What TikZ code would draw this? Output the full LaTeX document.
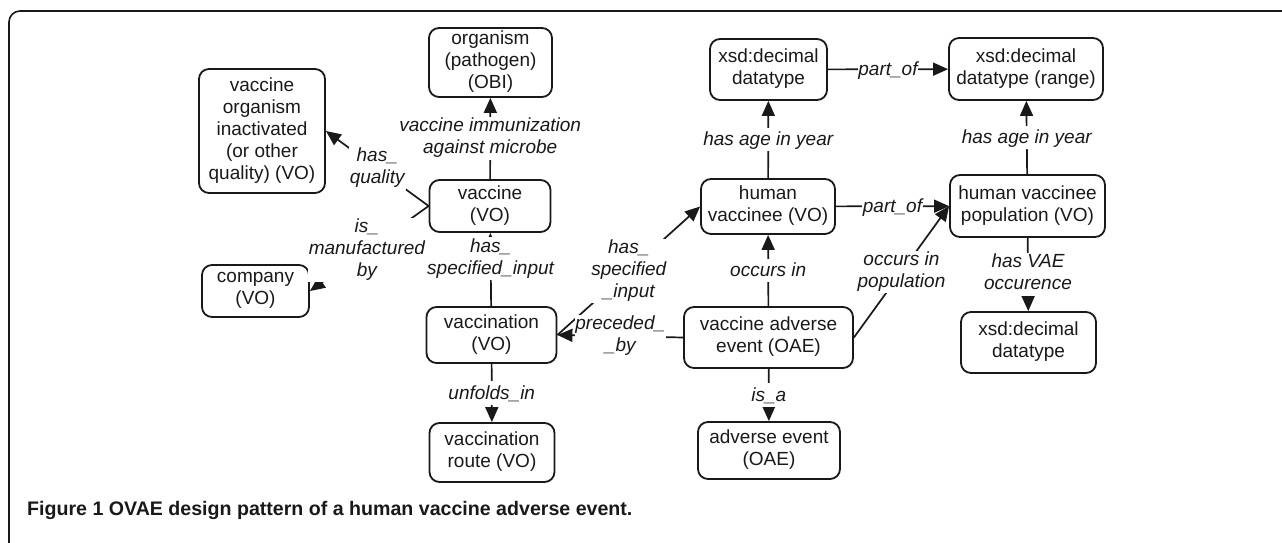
\documentclass[tikz,border=0pt]{standalone}
\usepackage{fontspec}
\usetikzlibrary{arrows.meta}
\newfontfamily\diagfam{Liberation Sans}
\newcommand\nodefont{\diagfam\fontsize{19}{22}\selectfont}
\newcommand\lblfont{\diagfam\itshape\fontsize{19}{22}\selectfont}
\newcommand\capfont{\diagfam\bfseries\fontsize{19.6}{23}\selectfont}
\newcommand\nstrut{\vrule height 17.2pt depth 4.8pt width 0pt}
\definecolor{ink}{RGB}{25,25,25}
\tikzset{
  box/.style={draw=ink, line width=1.8pt, rounded corners=10pt, align=center,
    inner sep=0pt, font=\nodefont, text=ink,
    execute at begin node=\nstrut, execute at end node=\nstrut},
  lbl/.style={fill=white, inner sep=0.8pt, font=\lblfont, align=center, text=ink,
    execute at begin node=\nstrut, execute at end node=\nstrut},
  rel/.style={draw=ink, line width=1.7pt, -{Triangle[length=15pt,width=13pt]}},
  frameline/.style={draw=ink, line width=1.6pt, rounded corners=11pt},
}
\begin{document}
\begin{tikzpicture}[x=1pt,y=-1pt]
\useasboundingbox (0,0) rectangle (1282,543);
\draw[frameline] (9,620) -- (9,11) -- (1320,11);

% nodes
\node[box, minimum width=123pt, minimum height=69pt] (org) at (490.5,62.5) {organism\\(pathogen)\\(OBI)};
\node[box, minimum width=126pt, minimum height=124pt] (voi) at (262,131) {vaccine\\organism\\inactivated\\(or other\\quality) (VO)};
\node[box, minimum width=121pt, minimum height=52pt] (vac) at (490,206) {vaccine\\(VO)};
\node[box, minimum width=107pt, minimum height=52pt] (comp) at (255.5,291) {company\\(VO)};
\node[box, minimum width=130pt, minimum height=56pt] (vacc) at (491.5,335) {vaccination\\(VO)};
\node[box, minimum width=125pt, minimum height=59pt] (route) at (492,452.5) {vaccination\\route (VO)};
\node[box, minimum width=117pt, minimum height=61pt] (xsda) at (768.5,69.5) {xsd:decimal\\datatype};
\node[box, minimum width=134pt, minimum height=55pt] (hv) at (768,206.5) {human\\vaccinee (VO)};
\node[box, minimum width=169pt, minimum height=61pt] (vae) at (768.5,337.5) {vaccine adverse\\event (OAE)};
\node[box, minimum width=142pt, minimum height=57pt] (ae) at (769,450.5) {adverse event\\(OAE)};
\node[box, minimum width=154pt, minimum height=62pt] (xsdr) at (1026,69) {xsd:decimal\\datatype (range)};
\node[box, minimum width=155pt, minimum height=62pt] (pop) at (1027.5,206) {human vaccinee\\population (VO)};
\node[box, minimum width=135pt, minimum height=61pt] (xsdb) at (1028.5,342.5) {xsd:decimal\\datatype};

% connectors
\draw[rel] (vac) -- node[lbl] {vaccine immunization\\against microbe} (org);
\draw[rel] (vac.west) -- node[lbl] {has\_\\quality} (voi.east);
\draw[rel] (vacc) -- node[lbl, pos=0.65] {has\_\\specified\_input} (vac);
\draw[rel] (vac.west) -- node[lbl, pos=0.52] {is\_\\manufactured\\by} (comp.east);
\draw[rel] (vacc) -- node[lbl] {unfolds\_in} (route);
\draw[rel] (vacc.east) -- node[lbl] {has\_\\specified\\\_input} (hv.west);
\draw[rel] (vae.west) -- node[lbl] {preceded\_\\\_by} (vacc.east);
\draw[rel] (vae) -- node[lbl] {occurs in} (hv);
\draw[rel] (vae) -- node[lbl] {is\_a} (ae);
\draw[rel] (hv) -- node[lbl] {has age in year} (xsda);
\draw[rel] (xsda) -- node[lbl] {part\_of} (xsdr);
\draw[rel] (hv) -- node[lbl] {part\_of} (pop);
\draw[rel] (vae.east) -- node[lbl] {occurs in\\population} (pop.west);
\draw[rel] (pop) -- node[lbl] {has age in year} (xsdr);
\draw[rel] (pop) -- node[lbl] {has VAE\\occurence} (xsdb);

% caption
\node[anchor=base west, inner sep=0pt, font=\capfont, text=ink] (cap) at (27,515) {Figure 1 OVAE design pattern of a human vaccine adverse event.};
\end{tikzpicture}
\end{document}
